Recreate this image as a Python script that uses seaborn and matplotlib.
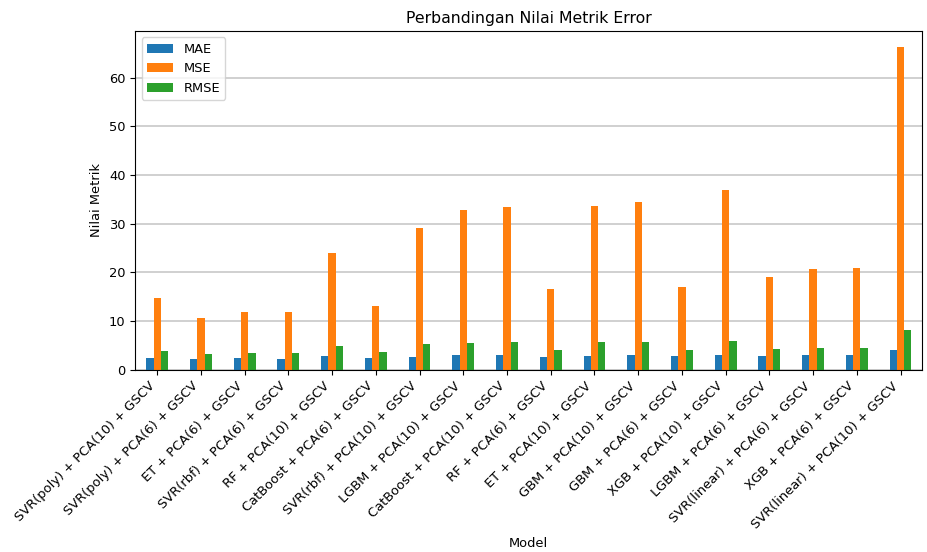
import numpy as np
import pandas as pd
import matplotlib
matplotlib.use("Agg")
import matplotlib.pyplot as plt
import seaborn as sns

# ─────────────────────────────────────────────
# Data
# ─────────────────────────────────────────────
models = [
    "SVR(poly) + PCA(10) + GSCV",
    "SVR(poly) + PCA(6) + GSCV",
    "ET + PCA(6) + GSCV",
    "SVR(rbf) + PCA(6) + GSCV",
    "RF + PCA(10) + GSCV",
    "CatBoost + PCA(6) + GSCV",
    "SVR(rbf) + PCA(10) + GSCV",
    "LGBM + PCA(10) + GSCV",
    "CatBoost + PCA(10) + GSCV",
    "RF + PCA(6) + GSCV",
    "ET + PCA(10) + GSCV",
    "GBM + PCA(10) + GSCV",
    "GBM + PCA(6) + GSCV",
    "XGB + PCA(10) + GSCV",
    "LGBM + PCA(6) + GSCV",
    "SVR(linear) + PCA(6) + GSCV",
    "XGB + PCA(6) + GSCV",
    "SVR(linear) + PCA(10) + GSCV",
]
mae = [2.4, 2.2, 2.4, 2.2, 2.9, 2.4, 2.7, 3.0, 3.0,
       2.7, 2.9, 3.1, 2.9, 3.1, 2.9, 3.0, 3.1, 4.0]
mse = [14.7, 10.7, 11.85, 11.85, 24.0, 13.1, 29.2, 32.9, 33.5,
       16.6, 33.7, 34.45, 17.1, 37.0, 19.1, 20.75, 20.96, 66.2]
rmse = [3.8, 3.2, 3.4, 3.4, 4.8, 3.6, 5.3, 5.6, 5.75,
        4.0, 5.75, 5.8, 4.1, 5.96, 4.25, 4.45, 4.5, 8.15]

df = pd.DataFrame({"Model": models, "MAE": mae, "MSE": mse, "RMSE": rmse})
long_df = df.melt(id_vars="Model", var_name="Metrik", value_name="Nilai")

# ─────────────────────────────────────────────
# Plot
# ─────────────────────────────────────────────
fs = 9.4
fig = plt.figure(figsize=(9.27, 5.52), dpi=100)
ax = fig.add_axes([0.146, 0.330, 0.849, 0.614])

sns.barplot(
    data=long_df, x="Model", y="Nilai", hue="Metrik",
    palette=["#1f77b4", "#ff7f0e", "#2ca02c"],
    saturation=1, width=0.5, gap=0, errorbar=None, ax=ax,
)

ax.set_xlim(-0.5, len(models) - 0.5)
ax.set_ylim(0, 69.6)
ax.grid(axis="y", color="#c8c8c8", linewidth=1.2)
ax.set_axisbelow(True)

ax.set_title("Perbandingan Nilai Metrik Error", fontsize=11.3)
ax.set_xlabel("Model", fontsize=fs)
ax.set_ylabel("Nilai Metrik", fontsize=fs)
ax.tick_params(axis="y", labelsize=fs)
plt.setp(ax.get_xticklabels(), rotation=45, ha="right", fontsize=fs)
ax.legend(loc="upper left", fontsize=fs)

plt.savefig("out.png", dpi=100)
plt.close()
